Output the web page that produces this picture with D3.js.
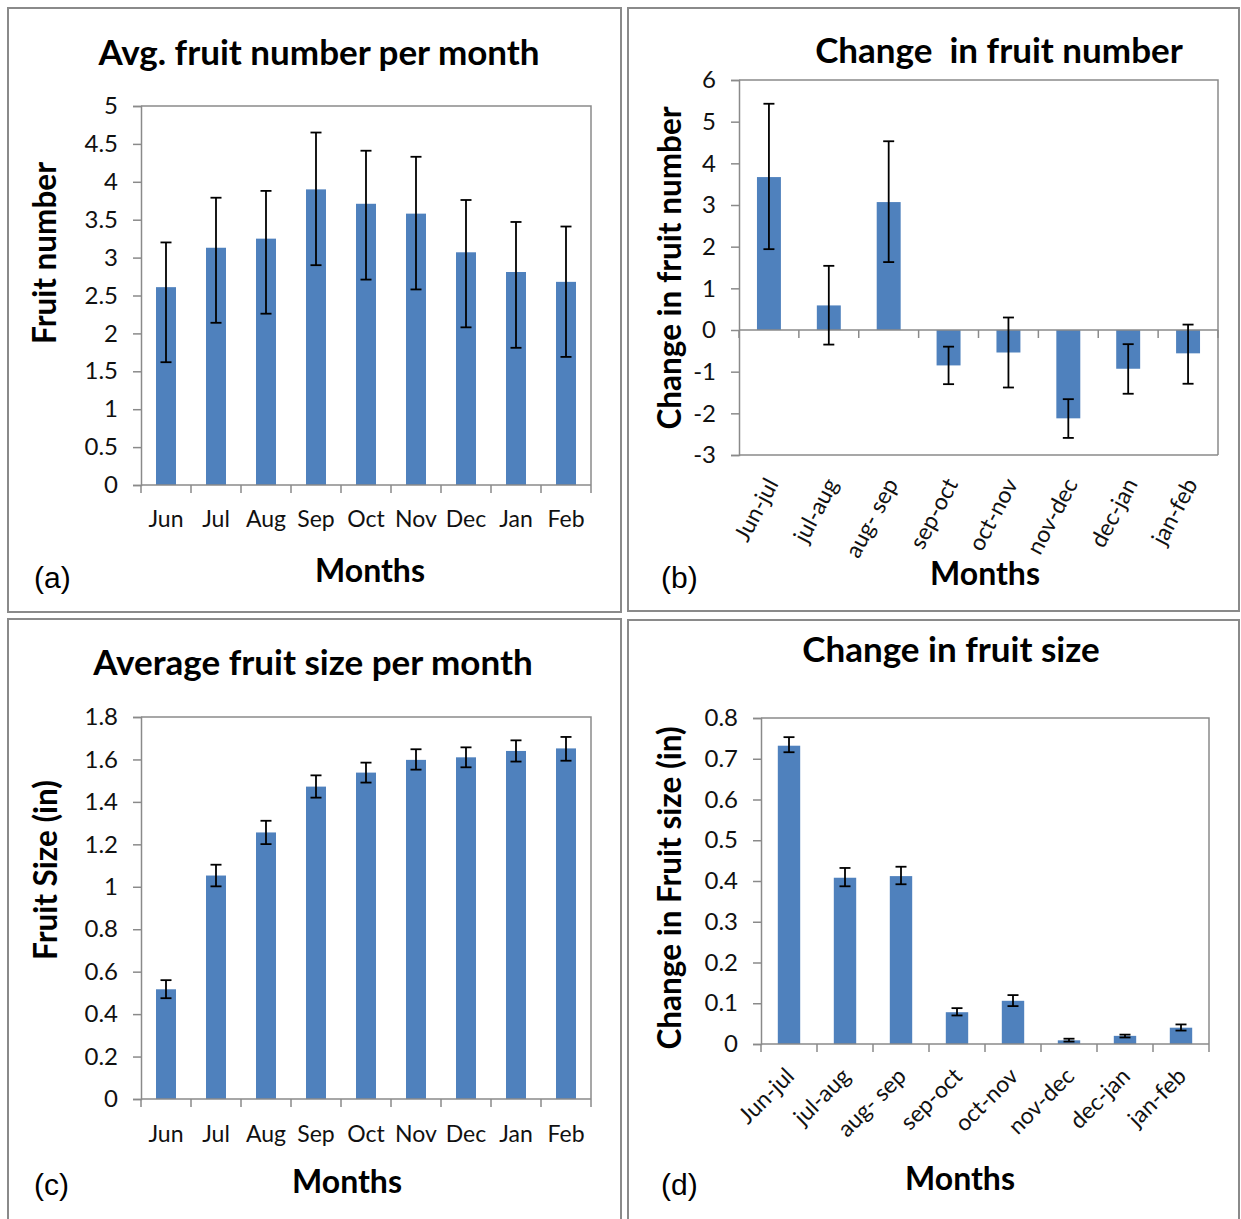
<!DOCTYPE html>
<html>
<head>
<meta charset="utf-8">
<script src="https://cdn.jsdelivr.net/npm/d3@7"></script>
<style>
  body { margin: 0; background: #fff; }
  text { font-family: Lato, "Open Sans", sans-serif; }
</style>
</head>
<body>
<svg id="chart" width="1241" height="1219"></svg>
<script>
// categories
const months = ["Jun", "Jul", "Aug", "Sep", "Oct", "Nov", "Dec", "Jan", "Feb"];
const pairs = ["Jun-jul", "jul-aug", "aug- sep", "sep-oct", "oct-nov", "nov-dec", "dec-jan", "jan-feb"];

// (a) avg fruit number, with error bar ends
const numAvg = [2.61, 3.13, 3.25, 3.90, 3.71, 3.58, 3.07, 2.81, 2.68];
const numHi  = [3.20, 3.79, 3.88, 4.65, 4.41, 4.33, 3.76, 3.47, 3.41];
const numLo  = [1.62, 2.14, 2.26, 2.90, 2.71, 2.58, 2.08, 1.81, 1.69];

// (b) change in fruit number
const numChg   = [3.67, 0.59, 3.07, -0.85, -0.54, -2.12, -0.93, -0.56];
const numChgHi = [5.43, 1.54, 4.53, -0.40, 0.30, -1.66, -0.34, 0.13];
const numChgLo = [1.94, -0.35, 1.63, -1.30, -1.38, -2.59, -1.53, -1.29];

// (c) avg fruit size (in)
const sizeAvg = [0.517, 1.053, 1.256, 1.472, 1.538, 1.598, 1.610, 1.640, 1.652];
const sizeHi  = [0.560, 1.104, 1.311, 1.525, 1.585, 1.648, 1.657, 1.690, 1.706];
const sizeLo  = [0.475, 1.002, 1.201, 1.420, 1.491, 1.552, 1.563, 1.590, 1.594];

// (d) change in fruit size (in)
const sizeChg   = [0.732, 0.408, 0.412, 0.078, 0.106, 0.009, 0.020, 0.040];
const sizeChgHi = [0.753, 0.432, 0.435, 0.088, 0.120, 0.013, 0.023, 0.048];
const sizeChgLo = [0.716, 0.387, 0.392, 0.070, 0.093, 0.006, 0.016, 0.033];

// y tick values
const ticksA = d3.range(0, 5.01, 0.5);
const ticksB = d3.range(-3, 6.01, 1);
const ticksC = d3.range(0, 1.801, 0.2);
const ticksD = d3.range(0, 0.801, 0.1);

const svg = d3.select("#chart");
const gray = "#8a8a8a";
const barColor = "#4f81bd";
const fmt = d => String(+d.toFixed(2));

function drawPanel(p) {
  const g = svg.append("g");

  // panel frame
  g.append("rect")
    .attr("x", p.frame[0]).attr("y", p.frame[1])
    .attr("width", p.frame[2] - p.frame[0]).attr("height", p.frame[3] - p.frame[1])
    .attr("fill", "none").attr("stroke", gray).attr("stroke-width", 2);

  const x = d3.scaleBand().domain(p.cats).range([p.x0, p.x1]).paddingInner(0).paddingOuter(0);
  const y = d3.scaleLinear().domain(p.domain).range([p.y1, p.y0]);
  const bw = x.bandwidth() * 0.4;

  // plot area border (top/right)
  g.append("path")
    .attr("d", `M${p.x0},${p.y0}H${p.x1}V${p.y1}`)
    .attr("fill", "none").attr("stroke", gray).attr("stroke-width", 1.5);
  if (p.domain[0] < 0) {
    g.append("line")
      .attr("x1", p.x0).attr("x2", p.x1).attr("y1", p.y1).attr("y2", p.y1)
      .attr("stroke", gray).attr("stroke-width", 1.5);
  }

  // bars
  g.selectAll(".bar").data(p.vals).join("rect")
    .attr("class", "bar")
    .attr("x", (d, i) => x(p.cats[i]) + (x.bandwidth() - bw) / 2)
    .attr("y", d => Math.min(y(d), y(0)))
    .attr("width", bw)
    .attr("height", d => Math.abs(y(d) - y(0)))
    .attr("fill", barColor);

  // y axis
  const yAxis = g.append("g")
    .attr("transform", `translate(${p.x0},0)`)
    .call(d3.axisLeft(y).tickValues(p.ticks).tickFormat(fmt).tickSize(8).tickPadding(15));
  yAxis.select(".domain").attr("stroke", gray).attr("stroke-width", 1.5);
  yAxis.selectAll(".tick line").attr("stroke", gray).attr("stroke-width", 1.5);
  yAxis.selectAll("text").attr("font-size", 24).attr("fill", "#111")
    .style("font-family", "Lato, sans-serif");

  // x axis at zero with ticks on band edges
  const y0 = y(0);
  g.append("line")
    .attr("x1", p.x0).attr("x2", p.x1).attr("y1", y0).attr("y2", y0)
    .attr("stroke", gray).attr("stroke-width", 1.5);
  const edges = p.cats.map(c => x(c)).concat([p.x1]);
  g.selectAll(".xt").data(edges).join("line")
    .attr("x1", d => d).attr("x2", d => d)
    .attr("y1", y0).attr("y2", y0 + 8)
    .attr("stroke", gray).attr("stroke-width", 1.5);

  // error bars
  const eb = g.selectAll(".err").data(p.vals).join("g")
    .attr("transform", (d, i) => `translate(${x(p.cats[i]) + x.bandwidth() / 2},0)`);
  eb.append("line")
    .attr("y1", (d, i) => y(p.hi[i])).attr("y2", (d, i) => y(p.lo[i]))
    .attr("stroke", "#000").attr("stroke-width", 1.8);
  eb.append("line")
    .attr("x1", -5.5).attr("x2", 5.5)
    .attr("y1", (d, i) => y(p.hi[i])).attr("y2", (d, i) => y(p.hi[i]))
    .attr("stroke", "#000").attr("stroke-width", 1.8);
  eb.append("line")
    .attr("x1", -5.5).attr("x2", 5.5)
    .attr("y1", (d, i) => y(p.lo[i])).attr("y2", (d, i) => y(p.lo[i]))
    .attr("stroke", "#000").attr("stroke-width", 1.8);

  // category labels
  const lab = g.selectAll(".cl").data(p.cats).join("text")
    .attr("font-size", 23).attr("fill", "#111");
  if (p.rotate) {
    lab.attr("text-anchor", "end")
      .attr("transform", d => `translate(${x(d) + x.bandwidth() / 2 + p.labDx},${p.labY}) rotate(${p.rotate})`)
      .attr("dy", "0.35em")
      .text(d => d);
  } else {
    lab.attr("text-anchor", "middle")
      .attr("x", d => x(d) + x.bandwidth() / 2)
      .attr("y", p.labY)
      .text(d => d);
  }

  // titles
  g.append("text").attr("x", p.title[1]).attr("y", p.title[2])
    .attr("text-anchor", "middle").attr("font-size", 35).attr("font-weight", 700)
    .style("white-space", "pre")
    .text(p.title[0]);
  g.append("text").attr("x", p.xlab[0]).attr("y", p.xlab[1])
    .attr("text-anchor", "middle").attr("font-size", 32).attr("font-weight", 700)
    .text("Months");
  g.append("text")
    .attr("transform", `translate(${p.ylab[1]},${p.ylab[2]}) rotate(-90)`)
    .attr("text-anchor", "middle").attr("font-size", 31.5).attr("font-weight", 700)
    .text(p.ylab[0]);
  g.append("text").attr("x", p.tag[1]).attr("y", p.tag[2])
    .attr("font-size", 30).style("font-family", "'Liberation Sans', Arial, sans-serif")
    .text(p.tag[0]);
}

drawPanel({
  frame: [8, 8, 621, 612],
  x0: 141, x1: 591, y0: 106, y1: 485,
  cats: months, vals: numAvg, hi: numHi, lo: numLo,
  domain: [0, 5], ticks: ticksA,
  labY: 527,
  title: ["Avg. fruit number per month", 319, 65],
  xlab: [370, 582], ylab: ["Fruit number", 56, 253], tag: ["(a)", 34, 588]
});

drawPanel({
  frame: [628, 8, 1239, 611],
  x0: 739, x1: 1218, y0: 80, y1: 455,
  cats: pairs, vals: numChg, hi: numChgHi, lo: numChgLo,
  domain: [-3, 6], ticks: ticksB,
  rotate: -62, labDx: 3, labY: 480,
  title: ["Change\u00a0 in fruit number", 999, 63],
  xlab: [985, 585], ylab: ["Change in fruit number", 681, 268], tag: ["(b)", 661, 588]
});

drawPanel({
  frame: [8, 619, 621, 1230],
  x0: 141, x1: 591, y0: 717, y1: 1099,
  cats: months, vals: sizeAvg, hi: sizeHi, lo: sizeLo,
  domain: [0, 1.8], ticks: ticksC,
  labY: 1142,
  title: ["Average fruit size per month", 313, 675],
  xlab: [347, 1193], ylab: ["Fruit Size (in)", 57, 870], tag: ["(c)", 34, 1195]
});

drawPanel({
  frame: [628, 620, 1239, 1230],
  x0: 761, x1: 1209, y0: 718, y1: 1044,
  cats: pairs, vals: sizeChg, hi: sizeChgHi, lo: sizeChgLo,
  domain: [0, 0.8], ticks: ticksD,
  rotate: -45, labDx: 1, labY: 1072,
  title: ["Change in fruit size", 951, 662],
  xlab: [960, 1190], ylab: ["Change in Fruit size (in)", 681, 888], tag: ["(d)", 661, 1195]
});
</script>
</body>
</html>
